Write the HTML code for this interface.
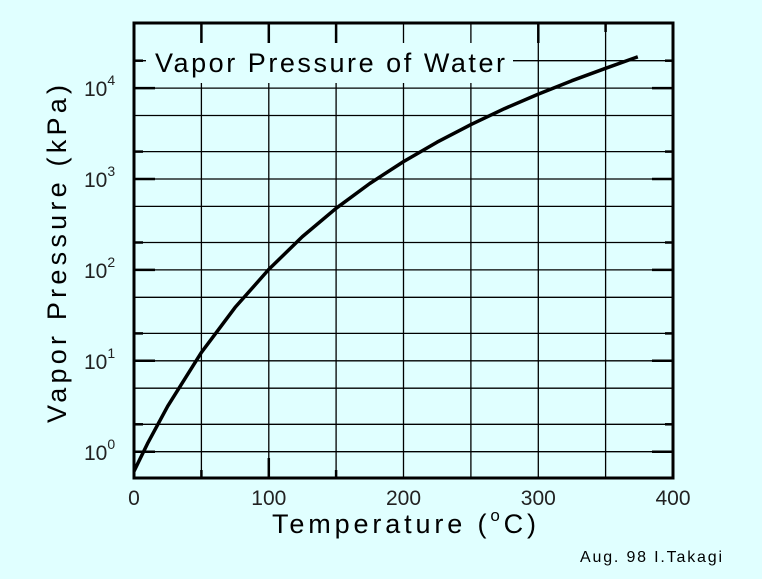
<!DOCTYPE html>
<html><head><meta charset="utf-8"><style>
html,body{margin:0;padding:0;background:#e0ffff;}
svg{display:block;font-family:"Liberation Sans",Arial,sans-serif;}
</style></head><body>
<svg width="762" height="579" viewBox="0 0 762 579" xmlns="http://www.w3.org/2000/svg">
<rect width="762" height="579" fill="#e0ffff"/>
<g stroke="#000" stroke-width="1.3" fill="none">
<line x1="201.4" y1="23" x2="201.4" y2="478"/>
<line x1="268.8" y1="23" x2="268.8" y2="478"/>
<line x1="336.1" y1="23" x2="336.1" y2="478"/>
<line x1="403.5" y1="23" x2="403.5" y2="478"/>
<line x1="470.9" y1="23" x2="470.9" y2="478"/>
<line x1="538.3" y1="23" x2="538.3" y2="478"/>
<line x1="605.6" y1="23" x2="605.6" y2="478"/>
<line x1="134" y1="451.7" x2="673" y2="451.7"/>
<line x1="134" y1="424.3" x2="673" y2="424.3"/>
<line x1="134" y1="388.2" x2="673" y2="388.2"/>
<line x1="134" y1="360.8" x2="673" y2="360.8"/>
<line x1="134" y1="333.4" x2="673" y2="333.4"/>
<line x1="134" y1="297.3" x2="673" y2="297.3"/>
<line x1="134" y1="269.9" x2="673" y2="269.9"/>
<line x1="134" y1="242.5" x2="673" y2="242.5"/>
<line x1="134" y1="206.4" x2="673" y2="206.4"/>
<line x1="134" y1="179" x2="673" y2="179"/>
<line x1="134" y1="151.6" x2="673" y2="151.6"/>
<line x1="134" y1="115.5" x2="673" y2="115.5"/>
<line x1="134" y1="88.1" x2="673" y2="88.1"/>
<line x1="134" y1="60.7" x2="673" y2="60.7"/>
</g>
<g stroke="#000" stroke-width="2.5">
<line x1="134" y1="451.7" x2="155" y2="451.7"/><line x1="134" y1="360.8" x2="155" y2="360.8"/>
<line x1="134" y1="269.9" x2="155" y2="269.9"/><line x1="134" y1="179" x2="155" y2="179"/>
<line x1="134" y1="88.1" x2="155" y2="88.1"/>
<line x1="134" y1="424.3" x2="143" y2="424.3"/><line x1="134" y1="333.4" x2="143" y2="333.4"/>
<line x1="134" y1="242.5" x2="143" y2="242.5"/><line x1="134" y1="151.6" x2="143" y2="151.6"/>
<line x1="134" y1="60.7" x2="143" y2="60.7"/>
<line x1="652" y1="451.7" x2="673" y2="451.7"/><line x1="652" y1="360.8" x2="673" y2="360.8"/>
<line x1="652" y1="269.9" x2="673" y2="269.9"/><line x1="652" y1="179" x2="673" y2="179"/>
<line x1="652" y1="88.1" x2="673" y2="88.1"/>
<line x1="665" y1="424.3" x2="673" y2="424.3"/><line x1="665" y1="333.4" x2="673" y2="333.4"/>
<line x1="665" y1="242.5" x2="673" y2="242.5"/><line x1="665" y1="151.6" x2="673" y2="151.6"/>
<line x1="665" y1="60.7" x2="673" y2="60.7"/>
<line x1="201.4" y1="23" x2="201.4" y2="43"/><line x1="268.8" y1="23" x2="268.8" y2="43"/>
<line x1="336.1" y1="23" x2="336.1" y2="43"/><line x1="538.3" y1="23" x2="538.3" y2="43"/>
<line x1="605.6" y1="23" x2="605.6" y2="32"/>
<line x1="201.4" y1="478" x2="201.4" y2="470"/><line x1="268.8" y1="478" x2="268.8" y2="458"/>
<line x1="336.1" y1="478" x2="336.1" y2="470"/>
</g>
<rect x="146" y="43" width="367" height="40" fill="#e0ffff"/>
<rect x="134" y="23" width="539" height="455" fill="none" stroke="#000" stroke-width="3"/>
<polyline fill="none" stroke="#000" stroke-width="3.5" stroke-linejoin="round" points="134,471.2 147.5,443.6 167.7,406.2 201.4,352.4 235.1,307.4 268.8,269.4 302.4,236.6 336.1,208.3 369.8,183.5 403.5,161.6 437.2,142.1 470.9,124.6 504.6,108.6 538.3,94.1 571.9,80.7 605.6,68.3 637.8,56.8"/>
<text x="155" y="72" font-size="27" fill="#000" textLength="350" lengthAdjust="spacing">Vapor Pressure of Water</text>
<g font-size="21" fill="#222">
<text x="84" y="96">10<tspan font-size="14" dy="-11">4</tspan></text>
<text x="84" y="187">10<tspan font-size="14" dy="-11">3</tspan></text>
<text x="84" y="278">10<tspan font-size="14" dy="-11">2</tspan></text>
<text x="84" y="369">10<tspan font-size="14" dy="-11">1</tspan></text>
<text x="84" y="460">10<tspan font-size="14" dy="-11">0</tspan></text>
</g>
<g font-size="21" fill="#222" text-anchor="middle">
<text x="134" y="505">0</text>
<text x="268.8" y="505">100</text>
<text x="403.5" y="505">200</text>
<text x="538.3" y="505">300</text>
<text x="673" y="505">400</text>
</g>
<text transform="translate(66,423) rotate(-90)" font-size="27" fill="#000" textLength="338" lengthAdjust="spacing">Vapor  Pressure  (kPa)</text>
<text x="272" y="533" font-size="27" fill="#000" textLength="264" lengthAdjust="spacing">Temperature  (<tspan font-size="17" dy="-12">o</tspan><tspan dy="12">C)</tspan></text>
<text x="580" y="562" font-size="16" fill="#000" textLength="142" lengthAdjust="spacing">Aug. 98 I.Takagi</text>
</svg>
</body></html>
